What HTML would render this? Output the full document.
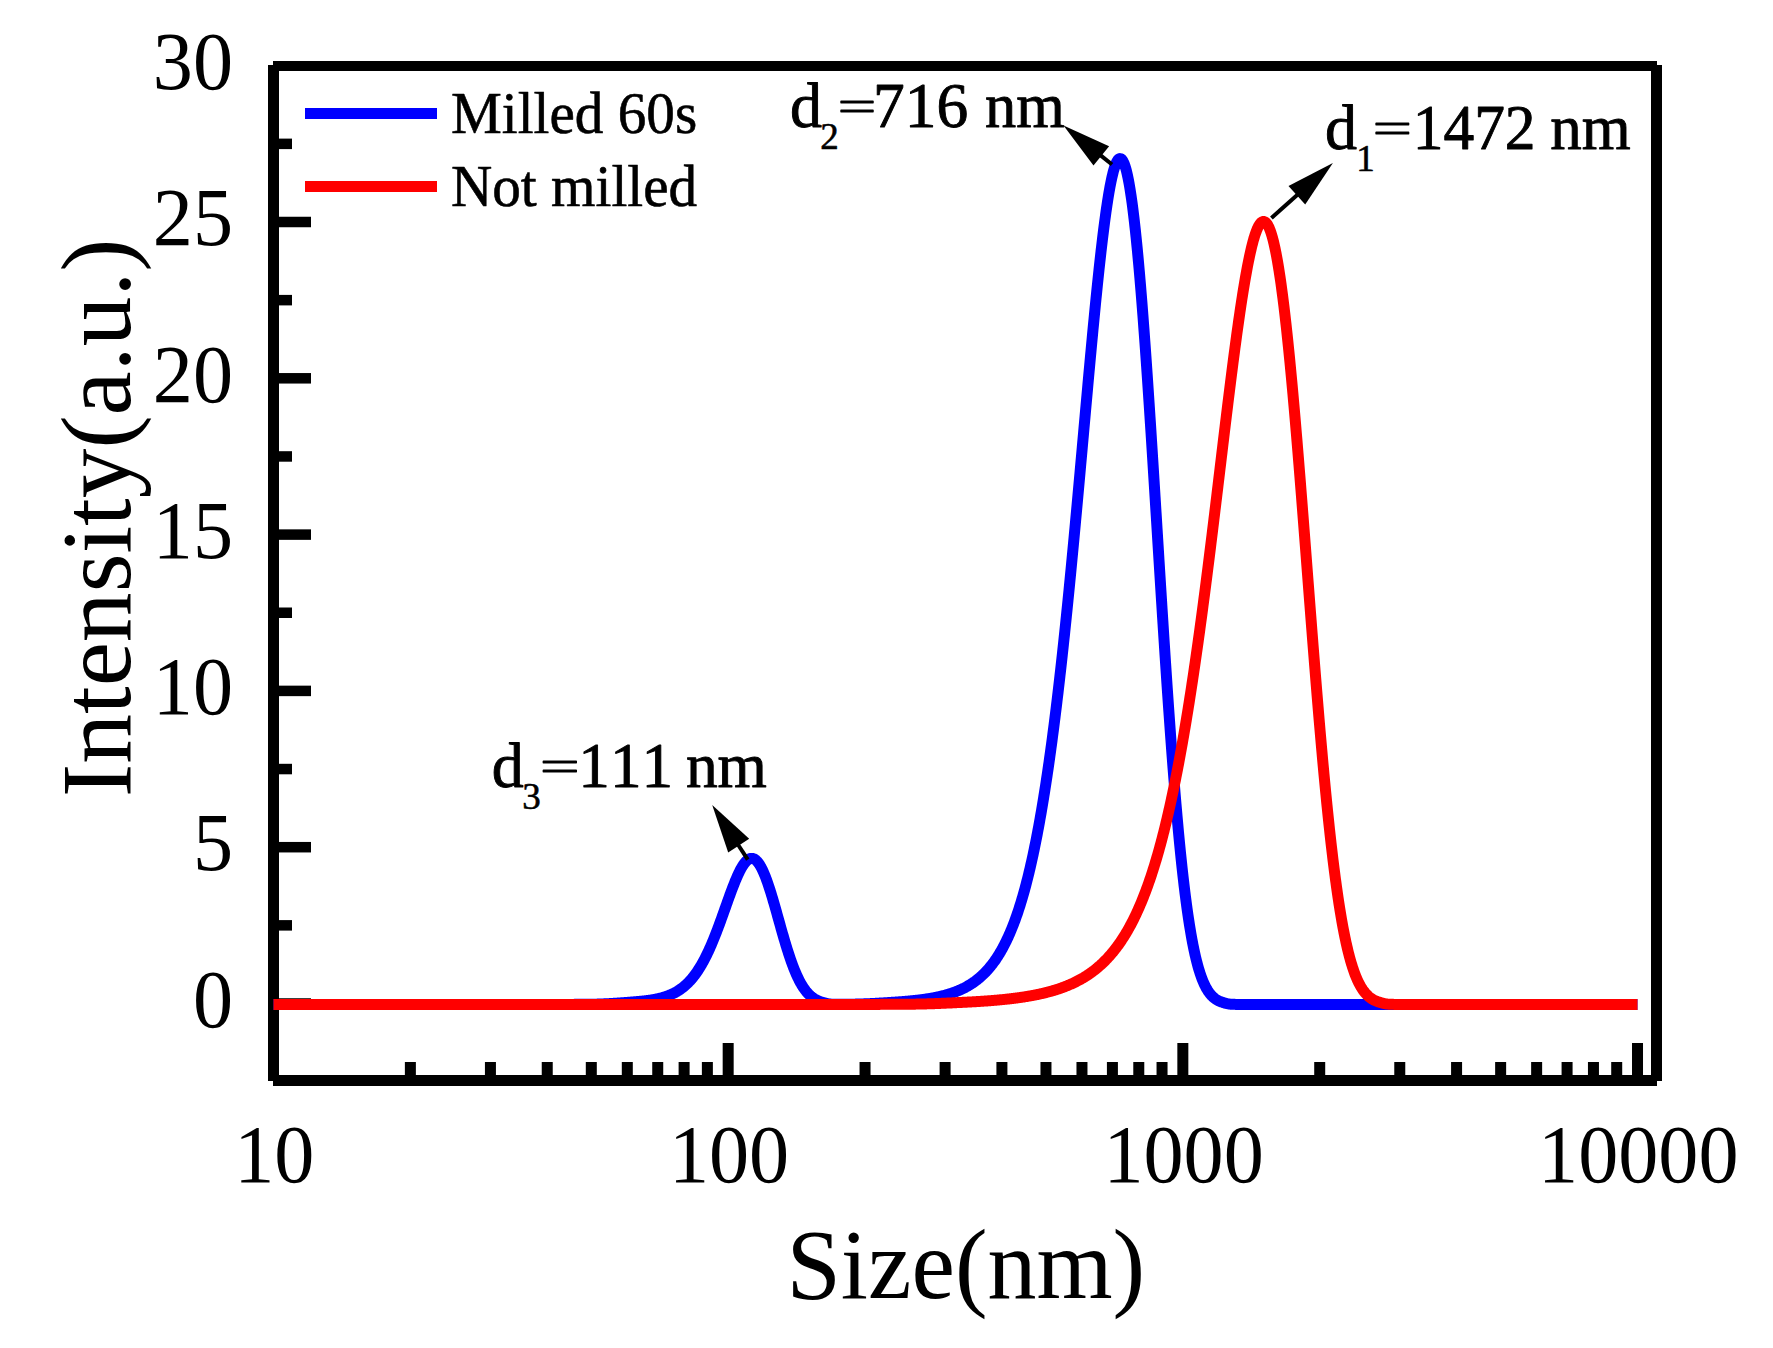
<!DOCTYPE html>
<html><head><meta charset="utf-8"><title>Size distribution</title>
<style>html,body{margin:0;padding:0;background:#fff}svg{display:block}</style>
</head><body>
<svg width="1773" height="1348" viewBox="0 0 1773 1348">
<rect width="1773" height="1348" fill="#fff"/>
<g fill="#000">
<rect x="268" y="65" width="11" height="1016"/>
<rect x="1651" y="65" width="11" height="1016"/>
<rect x="273" y="61" width="1384" height="10"/>
<rect x="273" y="1075" width="1384" height="11"/>
<rect x="273" y="998.25" width="38" height="10.5"/>
<rect x="273" y="920.10" width="19" height="10.5"/>
<rect x="273" y="841.95" width="38" height="10.5"/>
<rect x="273" y="763.80" width="19" height="10.5"/>
<rect x="273" y="685.65" width="38" height="10.5"/>
<rect x="273" y="607.50" width="19" height="10.5"/>
<rect x="273" y="529.35" width="38" height="10.5"/>
<rect x="273" y="451.20" width="19" height="10.5"/>
<rect x="273" y="373.05" width="38" height="10.5"/>
<rect x="273" y="294.90" width="19" height="10.5"/>
<rect x="273" y="216.75" width="38" height="10.5"/>
<rect x="273" y="138.60" width="19" height="10.5"/>
<rect x="268.00" y="1043" width="11" height="37"/>
<rect x="404.87" y="1062" width="11" height="18"/>
<rect x="484.93" y="1062" width="11" height="18"/>
<rect x="541.74" y="1062" width="11" height="18"/>
<rect x="585.80" y="1062" width="11" height="18"/>
<rect x="621.80" y="1062" width="11" height="18"/>
<rect x="652.24" y="1062" width="11" height="18"/>
<rect x="678.61" y="1062" width="11" height="18"/>
<rect x="701.87" y="1062" width="11" height="18"/>
<rect x="722.67" y="1043" width="11" height="37"/>
<rect x="859.54" y="1062" width="11" height="18"/>
<rect x="939.60" y="1062" width="11" height="18"/>
<rect x="996.41" y="1062" width="11" height="18"/>
<rect x="1040.47" y="1062" width="11" height="18"/>
<rect x="1076.47" y="1062" width="11" height="18"/>
<rect x="1106.91" y="1062" width="11" height="18"/>
<rect x="1133.28" y="1062" width="11" height="18"/>
<rect x="1156.54" y="1062" width="11" height="18"/>
<rect x="1177.34" y="1043" width="11" height="37"/>
<rect x="1314.21" y="1062" width="11" height="18"/>
<rect x="1394.27" y="1062" width="11" height="18"/>
<rect x="1451.08" y="1062" width="11" height="18"/>
<rect x="1495.14" y="1062" width="11" height="18"/>
<rect x="1531.14" y="1062" width="11" height="18"/>
<rect x="1561.58" y="1062" width="11" height="18"/>
<rect x="1587.95" y="1062" width="11" height="18"/>
<rect x="1611.21" y="1062" width="11" height="18"/>
<rect x="1632.01" y="1043" width="11" height="37"/>
</g>
<path d="M273.5,1004.40 L571.5,1004.38 L572.5,1004.38 L573.5,1004.38 L574.5,1004.37 L575.5,1004.37 L576.5,1004.37 L577.5,1004.36 L578.5,1004.36 L579.5,1004.35 L580.5,1004.35 L581.5,1004.34 L582.5,1004.33 L583.5,1004.33 L584.5,1004.32 L585.5,1004.31 L586.5,1004.30 L587.5,1004.29 L588.5,1004.28 L589.5,1004.26 L590.5,1004.25 L591.5,1004.23 L592.5,1004.21 L593.5,1004.20 L594.5,1004.17 L595.5,1004.15 L596.5,1004.13 L597.5,1004.10 L598.5,1004.07 L599.5,1004.04 L600.0,1004.02 L600.5,1004.01 L601.0,1003.99 L601.5,1003.97 L602.0,1003.95 L602.5,1003.93 L603.0,1003.91 L603.5,1003.89 L604.0,1003.87 L604.5,1003.85 L605.0,1003.83 L605.5,1003.81 L606.0,1003.78 L606.5,1003.76 L607.0,1003.73 L607.5,1003.71 L608.0,1003.68 L608.5,1003.65 L609.0,1003.63 L609.5,1003.60 L610.0,1003.57 L610.5,1003.54 L611.0,1003.51 L611.5,1003.48 L612.0,1003.45 L612.5,1003.42 L613.0,1003.39 L613.5,1003.36 L614.0,1003.32 L614.5,1003.29 L615.0,1003.26 L615.5,1003.22 L616.0,1003.19 L616.5,1003.16 L617.0,1003.12 L617.5,1003.09 L618.0,1003.05 L618.5,1003.02 L619.0,1002.98 L619.5,1002.95 L620.0,1002.91 L620.5,1002.87 L621.0,1002.84 L621.5,1002.80 L622.0,1002.77 L622.5,1002.73 L623.0,1002.69 L623.5,1002.66 L624.0,1002.62 L624.5,1002.58 L625.0,1002.55 L625.5,1002.51 L626.0,1002.47 L626.5,1002.44 L627.0,1002.40 L627.5,1002.36 L628.0,1002.32 L628.5,1002.28 L629.0,1002.25 L629.5,1002.21 L630.0,1002.17 L630.5,1002.13 L631.0,1002.09 L631.5,1002.05 L632.0,1002.01 L632.5,1001.97 L633.0,1001.93 L633.5,1001.89 L634.0,1001.85 L634.5,1001.81 L635.0,1001.77 L635.5,1001.72 L636.0,1001.68 L636.5,1001.63 L637.0,1001.59 L637.5,1001.55 L638.0,1001.50 L638.5,1001.45 L639.0,1001.41 L639.5,1001.36 L640.0,1001.31 L640.5,1001.26 L641.0,1001.21 L641.5,1001.16 L642.0,1001.11 L642.5,1001.06 L643.0,1001.01 L643.5,1000.96 L644.0,1000.90 L644.5,1000.85 L645.0,1000.79 L645.5,1000.74 L646.0,1000.68 L646.5,1000.62 L647.0,1000.56 L647.5,1000.49 L648.0,1000.43 L648.5,1000.36 L649.0,1000.29 L649.5,1000.22 L650.0,1000.15 L650.5,1000.07 L651.0,1000.00 L651.5,999.92 L652.0,999.84 L652.5,999.75 L653.0,999.67 L653.5,999.58 L654.0,999.49 L654.5,999.40 L655.0,999.31 L655.5,999.21 L656.0,999.11 L656.5,999.01 L657.0,998.90 L657.5,998.79 L658.0,998.68 L658.5,998.57 L659.0,998.45 L659.5,998.33 L660.0,998.21 L660.5,998.08 L661.0,997.95 L661.5,997.82 L662.0,997.68 L662.5,997.54 L663.0,997.40 L663.5,997.25 L664.0,997.10 L664.5,996.95 L665.0,996.79 L665.5,996.62 L666.0,996.45 L666.5,996.28 L667.0,996.10 L667.5,995.92 L668.0,995.74 L668.5,995.55 L669.0,995.35 L669.5,995.15 L670.0,994.94 L670.5,994.73 L671.0,994.51 L671.5,994.29 L672.0,994.06 L672.5,993.83 L673.0,993.59 L673.5,993.34 L674.0,993.09 L674.5,992.83 L675.0,992.56 L675.5,992.29 L676.0,992.01 L676.5,991.73 L677.0,991.43 L677.5,991.13 L678.0,990.82 L678.5,990.51 L679.0,990.19 L679.5,989.85 L680.0,989.51 L680.5,989.17 L681.0,988.81 L681.5,988.44 L682.0,988.07 L682.5,987.69 L683.0,987.30 L683.5,986.89 L684.0,986.48 L684.5,986.06 L685.0,985.63 L685.5,985.19 L686.0,984.74 L686.5,984.28 L687.0,983.81 L687.5,983.32 L688.0,982.83 L688.5,982.33 L689.0,981.81 L689.5,981.28 L690.0,980.74 L690.5,980.19 L691.0,979.63 L691.5,979.05 L692.0,978.46 L692.5,977.86 L693.0,977.25 L693.5,976.62 L694.0,975.98 L694.5,975.32 L695.0,974.66 L695.5,973.98 L696.0,973.28 L696.5,972.57 L697.0,971.85 L697.5,971.11 L698.0,970.36 L698.5,969.59 L699.0,968.81 L699.5,968.02 L700.0,967.21 L700.5,966.38 L701.0,965.54 L701.5,964.68 L702.0,963.81 L702.5,962.92 L703.0,962.02 L703.5,961.10 L704.0,960.17 L704.5,959.22 L705.0,958.26 L705.5,957.28 L706.0,956.28 L706.5,955.27 L707.0,954.25 L707.5,953.20 L708.0,952.15 L708.5,951.07 L709.0,949.99 L709.5,948.88 L710.0,947.76 L710.5,946.63 L711.0,945.48 L711.5,944.32 L712.0,943.15 L712.5,941.95 L713.0,940.75 L713.5,939.53 L714.0,938.30 L714.5,937.06 L715.0,935.80 L715.5,934.53 L716.0,933.25 L716.5,931.96 L717.0,930.65 L717.5,929.34 L718.0,928.01 L718.5,926.68 L719.0,925.34 L719.5,923.98 L720.0,922.62 L720.5,921.25 L721.0,919.88 L721.5,918.49 L722.0,917.11 L722.5,915.71 L723.0,914.32 L723.5,912.92 L724.0,911.51 L724.5,910.11 L725.0,908.70 L725.5,907.29 L726.0,905.88 L726.5,904.48 L727.0,903.07 L727.5,901.67 L728.0,900.27 L728.5,898.88 L729.0,897.49 L729.5,896.11 L730.0,894.74 L730.5,893.38 L731.0,892.02 L731.5,890.68 L732.0,889.35 L732.5,888.03 L733.0,886.73 L733.5,885.44 L734.0,884.17 L734.5,882.91 L735.0,881.68 L735.5,880.46 L736.0,879.26 L736.5,878.09 L737.0,876.94 L737.5,875.81 L738.0,874.71 L738.5,873.64 L739.0,872.59 L739.5,871.57 L740.0,870.59 L740.5,869.63 L741.0,868.71 L741.5,867.81 L742.0,866.96 L742.5,866.14 L743.0,865.35 L743.5,864.60 L744.0,863.89 L744.5,863.22 L745.0,862.59 L745.5,862.00 L746.0,861.45 L746.5,860.95 L747.0,860.49 L747.5,860.07 L748.0,859.70 L748.5,859.37 L749.0,859.09 L749.5,858.86 L750.0,858.67 L750.5,858.53 L751.0,858.44 L751.5,858.40 L752.0,858.41 L752.5,858.47 L753.0,858.58 L753.5,858.73 L754.0,858.94 L754.5,859.20 L755.0,859.51 L755.5,859.87 L756.0,860.28 L756.5,860.73 L757.0,861.24 L757.5,861.80 L758.0,862.41 L758.5,863.06 L759.0,863.77 L759.5,864.52 L760.0,865.32 L760.5,866.17 L761.0,867.06 L761.5,868.00 L762.0,868.99 L762.5,870.01 L763.0,871.09 L763.5,872.20 L764.0,873.35 L764.5,874.55 L765.0,875.78 L765.5,877.06 L766.0,878.37 L766.5,879.71 L767.0,881.09 L767.5,882.51 L768.0,883.95 L768.5,885.43 L769.0,886.94 L769.5,888.47 L770.0,890.03 L770.5,891.62 L771.0,893.23 L771.5,894.86 L772.0,896.52 L772.5,898.19 L773.0,899.88 L773.5,901.59 L774.0,903.31 L774.5,905.05 L775.0,906.79 L775.5,908.55 L776.0,910.32 L776.5,912.09 L777.0,913.87 L777.5,915.66 L778.0,917.44 L778.5,919.23 L779.0,921.02 L779.5,922.81 L780.0,924.59 L780.5,926.37 L781.0,928.14 L781.5,929.91 L782.0,931.67 L782.5,933.42 L783.0,935.15 L783.5,936.88 L784.0,938.59 L784.5,940.29 L785.0,941.98 L785.5,943.64 L786.0,945.29 L786.5,946.93 L787.0,948.54 L787.5,950.13 L788.0,951.70 L788.5,953.25 L789.0,954.78 L789.5,956.29 L790.0,957.77 L790.5,959.22 L791.0,960.66 L791.5,962.06 L792.0,963.44 L792.5,964.80 L793.0,966.13 L793.5,967.43 L794.0,968.70 L794.5,969.95 L795.0,971.17 L795.5,972.36 L796.0,973.53 L796.5,974.66 L797.0,975.77 L797.5,976.85 L798.0,977.91 L798.5,978.93 L799.0,979.93 L799.5,980.90 L800.0,981.84 L800.5,982.76 L801.0,983.65 L801.5,984.51 L802.0,985.35 L802.5,986.16 L803.0,986.94 L803.5,987.70 L804.0,988.43 L804.5,989.14 L805.0,989.83 L805.5,990.49 L806.0,991.13 L806.5,991.74 L807.0,992.33 L807.5,992.90 L808.0,993.45 L808.5,993.98 L809.0,994.49 L809.5,994.98 L810.0,995.45 L810.5,995.90 L811.0,996.33 L811.5,996.74 L812.0,997.14 L812.5,997.51 L813.0,997.88 L813.5,998.22 L814.0,998.55 L814.5,998.87 L815.0,999.17 L815.5,999.46 L816.0,999.73 L816.5,999.99 L817.0,1000.24 L817.5,1000.48 L818.0,1000.70 L818.5,1000.92 L819.0,1001.12 L819.5,1001.31 L820.0,1001.50 L820.5,1001.67 L821.0,1001.84 L821.5,1002.00 L822.0,1002.15 L822.5,1002.30 L823.0,1002.45 L823.5,1002.59 L824.0,1002.73 L824.5,1002.87 L825.0,1003.01 L825.5,1003.15 L826.0,1003.28 L826.5,1003.40 L827.0,1003.52 L827.5,1003.63 L828.0,1003.73 L828.5,1003.82 L829.0,1003.90 L829.5,1003.97 L830.0,1004.04 L830.5,1004.09 L831.0,1004.14 L831.5,1004.17 L832.0,1004.21 L832.5,1004.23 L833.0,1004.26 L833.5,1004.27 L834.0,1004.29 L834.5,1004.30 L835.0,1004.31 L835.5,1004.31 L836.0,1004.32 L836.5,1004.32 L837.0,1004.32 L837.5,1004.33 L838.0,1004.33 L838.5,1004.33 L839.0,1004.32 L839.5,1004.32 L840.0,1004.32 L840.5,1004.32 L841.0,1004.32 L841.5,1004.31 L842.0,1004.31 L842.5,1004.31 L843.0,1004.30 L843.5,1004.30 L844.0,1004.29 L844.5,1004.29 L845.0,1004.28 L845.5,1004.28 L846.0,1004.27 L846.5,1004.27 L847.0,1004.26 L847.5,1004.26 L848.0,1004.25 L848.5,1004.24 L849.0,1004.24 L849.5,1004.23 L850.0,1004.22 L850.5,1004.21 L851.0,1004.21 L851.5,1004.20 L852.0,1004.19 L852.5,1004.18 L853.0,1004.17 L853.5,1004.16 L854.0,1004.15 L854.5,1004.14 L855.0,1004.13 L855.5,1004.12 L856.0,1004.11 L856.5,1004.10 L857.0,1004.09 L857.5,1004.07 L858.0,1004.06 L858.5,1004.05 L859.0,1004.03 L859.5,1004.02 L860.0,1004.01 L860.5,1003.99 L861.0,1003.98 L861.5,1003.96 L862.0,1003.94 L862.5,1003.93 L863.0,1003.91 L863.5,1003.89 L864.0,1003.87 L864.5,1003.86 L865.0,1003.84 L865.5,1003.82 L866.0,1003.80 L866.5,1003.78 L867.0,1003.76 L867.5,1003.74 L868.0,1003.72 L868.5,1003.69 L869.0,1003.67 L869.5,1003.65 L870.0,1003.62 L870.5,1003.60 L871.0,1003.58 L871.5,1003.55 L872.0,1003.53 L872.5,1003.50 L873.0,1003.48 L873.5,1003.45 L874.0,1003.42 L874.5,1003.40 L875.0,1003.37 L875.5,1003.34 L876.0,1003.31 L876.5,1003.28 L877.0,1003.26 L877.5,1003.23 L878.0,1003.20 L878.5,1003.17 L879.0,1003.14 L879.5,1003.11 L880.0,1003.08 L880.5,1003.05 L881.0,1003.02 L881.5,1002.99 L882.0,1002.96 L882.5,1002.93 L883.0,1002.90 L883.5,1002.87 L884.0,1002.84 L884.5,1002.80 L885.0,1002.77 L885.5,1002.74 L886.0,1002.71 L886.5,1002.68 L887.0,1002.65 L887.5,1002.62 L888.0,1002.58 L888.5,1002.55 L889.0,1002.52 L889.5,1002.49 L890.0,1002.46 L890.5,1002.42 L891.0,1002.39 L891.5,1002.36 L892.0,1002.33 L892.5,1002.29 L893.0,1002.26 L893.5,1002.23 L894.0,1002.19 L894.5,1002.16 L895.0,1002.13 L895.5,1002.09 L896.0,1002.06 L896.5,1002.02 L897.0,1001.99 L897.5,1001.95 L898.0,1001.92 L898.5,1001.88 L899.0,1001.84 L899.5,1001.81 L900.0,1001.77 L900.5,1001.73 L901.0,1001.69 L901.5,1001.66 L902.0,1001.62 L902.5,1001.58 L903.0,1001.54 L903.5,1001.50 L904.0,1001.46 L904.5,1001.42 L905.0,1001.37 L905.5,1001.33 L906.0,1001.29 L906.5,1001.25 L907.0,1001.20 L907.5,1001.16 L908.0,1001.11 L908.5,1001.07 L909.0,1001.02 L909.5,1000.98 L910.0,1000.93 L910.5,1000.88 L911.0,1000.83 L911.5,1000.78 L912.0,1000.73 L912.5,1000.68 L913.0,1000.63 L913.5,1000.58 L914.0,1000.53 L914.5,1000.48 L915.0,1000.42 L915.5,1000.37 L916.0,1000.32 L916.5,1000.26 L917.0,1000.20 L917.5,1000.15 L918.0,1000.09 L918.5,1000.03 L919.0,999.97 L919.5,999.91 L920.0,999.85 L920.5,999.79 L921.0,999.73 L921.5,999.66 L922.0,999.60 L922.5,999.53 L923.0,999.47 L923.5,999.40 L924.0,999.33 L924.5,999.26 L925.0,999.19 L925.5,999.12 L926.0,999.04 L926.5,998.97 L927.0,998.89 L927.5,998.82 L928.0,998.74 L928.5,998.66 L929.0,998.58 L929.5,998.50 L930.0,998.41 L930.5,998.33 L931.0,998.24 L931.5,998.16 L932.0,998.07 L932.5,997.98 L933.0,997.89 L933.5,997.79 L934.0,997.70 L934.5,997.60 L935.0,997.51 L935.5,997.41 L936.0,997.31 L936.5,997.20 L937.0,997.10 L937.5,997.00 L938.0,996.89 L938.5,996.78 L939.0,996.67 L939.5,996.56 L940.0,996.44 L940.5,996.33 L941.0,996.21 L941.5,996.09 L942.0,995.97 L942.5,995.84 L943.0,995.72 L943.5,995.59 L944.0,995.46 L944.5,995.33 L945.0,995.19 L945.5,995.06 L946.0,994.92 L946.5,994.78 L947.0,994.63 L947.5,994.49 L948.0,994.34 L948.5,994.19 L949.0,994.03 L949.5,993.88 L950.0,993.72 L950.5,993.56 L951.0,993.40 L951.5,993.23 L952.0,993.06 L952.5,992.89 L953.0,992.72 L953.5,992.54 L954.0,992.36 L954.5,992.17 L955.0,991.99 L955.5,991.80 L956.0,991.61 L956.5,991.41 L957.0,991.21 L957.5,991.01 L958.0,990.80 L958.5,990.59 L959.0,990.38 L959.5,990.17 L960.0,989.95 L960.5,989.72 L961.0,989.49 L961.5,989.26 L962.0,989.03 L962.5,988.79 L963.0,988.55 L963.5,988.30 L964.0,988.05 L964.5,987.79 L965.0,987.53 L965.5,987.27 L966.0,987.00 L966.5,986.73 L967.0,986.45 L967.5,986.17 L968.0,985.88 L968.5,985.59 L969.0,985.29 L969.5,984.99 L970.0,984.68 L970.5,984.37 L971.0,984.05 L971.5,983.73 L972.0,983.40 L972.5,983.07 L973.0,982.73 L973.5,982.38 L974.0,982.03 L974.5,981.68 L975.0,981.31 L975.5,980.94 L976.0,980.57 L976.5,980.19 L977.0,979.80 L977.5,979.40 L978.0,979.00 L978.5,978.59 L979.0,978.18 L979.5,977.76 L980.0,977.33 L980.5,976.89 L981.0,976.45 L981.5,976.00 L982.0,975.54 L982.5,975.07 L983.0,974.60 L983.5,974.11 L984.0,973.62 L984.5,973.12 L985.0,972.62 L985.5,972.10 L986.0,971.58 L986.5,971.04 L987.0,970.50 L987.5,969.95 L988.0,969.39 L988.5,968.82 L989.0,968.24 L989.5,967.65 L990.0,967.05 L990.5,966.44 L991.0,965.82 L991.5,965.19 L992.0,964.55 L992.5,963.89 L993.0,963.23 L993.5,962.56 L994.0,961.87 L994.5,961.18 L995.0,960.47 L995.5,959.75 L996.0,959.02 L996.5,958.27 L997.0,957.52 L997.5,956.75 L998.0,955.97 L998.5,955.17 L999.0,954.36 L999.5,953.54 L1000.0,952.71 L1000.5,951.86 L1001.0,951.00 L1001.5,950.12 L1002.0,949.23 L1002.5,948.32 L1003.0,947.40 L1003.5,946.47 L1004.0,945.52 L1004.5,944.55 L1005.0,943.57 L1005.5,942.57 L1006.0,941.55 L1006.5,940.52 L1007.0,939.47 L1007.5,938.41 L1008.0,937.33 L1008.5,936.23 L1009.0,935.11 L1009.5,933.97 L1010.0,932.82 L1010.5,931.65 L1011.0,930.45 L1011.5,929.24 L1012.0,928.01 L1012.5,926.77 L1013.0,925.50 L1013.5,924.21 L1014.0,922.90 L1014.5,921.57 L1015.0,920.22 L1015.5,918.84 L1016.0,917.45 L1016.5,916.03 L1017.0,914.59 L1017.5,913.13 L1018.0,911.65 L1018.5,910.14 L1019.0,908.61 L1019.5,907.06 L1020.0,905.48 L1020.5,903.88 L1021.0,902.25 L1021.5,900.60 L1022.0,898.93 L1022.5,897.22 L1023.0,895.50 L1023.5,893.74 L1024.0,891.96 L1024.5,890.16 L1025.0,888.32 L1025.5,886.46 L1026.0,884.57 L1026.5,882.65 L1027.0,880.71 L1027.5,878.73 L1028.0,876.73 L1028.5,874.70 L1029.0,872.64 L1029.5,870.55 L1030.0,868.42 L1030.5,866.27 L1031.0,864.09 L1031.5,861.87 L1032.0,859.63 L1032.5,857.35 L1033.0,855.04 L1033.5,852.70 L1034.0,850.32 L1034.5,847.91 L1035.0,845.47 L1035.5,843.00 L1036.0,840.49 L1036.5,837.94 L1037.0,835.36 L1037.5,832.75 L1038.0,830.10 L1038.5,827.42 L1039.0,824.70 L1039.5,821.94 L1040.0,819.15 L1040.5,816.32 L1041.0,813.46 L1041.5,810.56 L1042.0,807.62 L1042.5,804.64 L1043.0,801.63 L1043.5,798.57 L1044.0,795.48 L1044.5,792.35 L1045.0,789.18 L1045.5,785.98 L1046.0,782.73 L1046.5,779.44 L1047.0,776.12 L1047.5,772.75 L1048.0,769.35 L1048.5,765.90 L1049.0,762.42 L1049.5,758.89 L1050.0,755.33 L1050.5,751.72 L1051.0,748.08 L1051.5,744.39 L1052.0,740.66 L1052.5,736.89 L1053.0,733.08 L1053.5,729.23 L1054.0,725.34 L1054.5,721.41 L1055.0,717.44 L1055.5,713.42 L1056.0,709.37 L1056.5,705.27 L1057.0,701.14 L1057.5,696.96 L1058.0,692.74 L1058.5,688.48 L1059.0,684.19 L1059.5,679.85 L1060.0,675.47 L1060.5,671.05 L1061.0,666.59 L1061.5,662.10 L1062.0,657.56 L1062.5,652.99 L1063.0,648.38 L1063.5,643.73 L1064.0,639.04 L1064.5,634.31 L1065.0,629.55 L1065.5,624.75 L1066.0,619.92 L1066.5,615.05 L1067.0,610.14 L1067.5,605.20 L1068.0,600.23 L1068.5,595.22 L1069.0,590.18 L1069.5,585.11 L1070.0,580.01 L1070.5,574.88 L1071.0,569.71 L1071.5,564.52 L1072.0,559.30 L1072.5,554.05 L1073.0,548.77 L1073.5,543.47 L1074.0,538.15 L1074.5,532.80 L1075.0,527.42 L1075.5,522.03 L1076.0,516.61 L1076.5,511.18 L1077.0,505.72 L1077.5,500.25 L1078.0,494.76 L1078.5,489.25 L1079.0,483.74 L1079.5,478.20 L1080.0,472.66 L1080.5,467.11 L1081.0,461.55 L1081.5,455.98 L1082.0,450.40 L1082.5,444.82 L1083.0,439.24 L1083.5,433.66 L1084.0,428.07 L1084.5,422.49 L1085.0,416.91 L1085.5,411.34 L1086.0,405.78 L1086.5,400.22 L1087.0,394.67 L1087.5,389.14 L1088.0,383.62 L1088.5,378.11 L1089.0,372.62 L1089.5,367.16 L1090.0,361.71 L1090.5,356.29 L1091.0,350.89 L1091.5,345.52 L1092.0,340.18 L1092.5,334.88 L1093.0,329.60 L1093.5,324.37 L1094.0,319.17 L1094.5,314.01 L1095.0,308.90 L1095.5,303.83 L1096.0,298.80 L1096.5,293.83 L1097.0,288.91 L1097.5,284.04 L1098.0,279.23 L1098.5,274.48 L1099.0,269.79 L1099.5,265.16 L1100.0,260.60 L1100.5,256.11 L1101.0,251.68 L1101.5,247.33 L1102.0,243.06 L1102.5,238.86 L1103.0,234.74 L1103.5,230.71 L1104.0,226.76 L1104.5,222.90 L1105.0,219.13 L1105.5,215.45 L1106.0,211.86 L1106.5,208.37 L1107.0,204.98 L1107.5,201.69 L1108.0,198.51 L1108.5,195.43 L1109.0,192.46 L1109.5,189.60 L1110.0,186.85 L1110.5,184.22 L1111.0,181.70 L1111.5,179.31 L1112.0,177.03 L1112.5,174.88 L1113.0,172.85 L1113.5,170.95 L1114.0,169.18 L1114.5,167.54 L1115.0,166.03 L1115.5,164.65 L1116.0,163.42 L1116.5,162.32 L1117.0,161.36 L1117.5,160.54 L1118.0,159.86 L1118.5,159.33 L1119.0,158.94 L1119.5,158.70 L1120.0,158.60 L1120.5,158.66 L1121.0,158.86 L1121.5,159.21 L1122.0,159.72 L1122.5,160.38 L1123.0,161.19 L1123.5,162.16 L1124.0,163.28 L1124.5,164.56 L1125.0,165.99 L1125.5,167.57 L1126.0,169.32 L1126.5,171.22 L1127.0,173.27 L1127.5,175.48 L1128.0,177.85 L1128.5,180.37 L1129.0,183.05 L1129.5,185.89 L1130.0,188.87 L1130.5,192.02 L1131.0,195.31 L1131.5,198.76 L1132.0,202.36 L1132.5,206.10 L1133.0,210.00 L1133.5,214.05 L1134.0,218.24 L1134.5,222.58 L1135.0,227.06 L1135.5,231.68 L1136.0,236.45 L1136.5,241.35 L1137.0,246.39 L1137.5,251.56 L1138.0,256.87 L1138.5,262.31 L1139.0,267.87 L1139.5,273.56 L1140.0,279.38 L1140.5,285.31 L1141.0,291.36 L1141.5,297.53 L1142.0,303.81 L1142.5,310.20 L1143.0,316.70 L1143.5,323.30 L1144.0,330.00 L1144.5,336.79 L1145.0,343.69 L1145.5,350.67 L1146.0,357.74 L1146.5,364.89 L1147.0,372.13 L1147.5,379.44 L1148.0,386.82 L1148.5,394.28 L1149.0,401.80 L1149.5,409.38 L1150.0,417.02 L1150.5,424.72 L1151.0,432.47 L1151.5,440.26 L1152.0,448.10 L1152.5,455.98 L1153.0,463.89 L1153.5,471.84 L1154.0,479.81 L1154.5,487.81 L1155.0,495.82 L1155.5,503.86 L1156.0,511.90 L1156.5,519.95 L1157.0,528.01 L1157.5,536.07 L1158.0,544.13 L1158.5,552.18 L1159.0,560.22 L1159.5,568.24 L1160.0,576.25 L1160.5,584.23 L1161.0,592.19 L1161.5,600.12 L1162.0,608.02 L1162.5,615.88 L1163.0,623.71 L1163.5,631.49 L1164.0,639.23 L1164.5,646.91 L1165.0,654.55 L1165.5,662.13 L1166.0,669.66 L1166.5,677.12 L1167.0,684.52 L1167.5,691.85 L1168.0,699.12 L1168.5,706.32 L1169.0,713.44 L1169.5,720.48 L1170.0,727.45 L1170.5,734.33 L1171.0,741.14 L1171.5,747.86 L1172.0,754.49 L1172.5,761.04 L1173.0,767.50 L1173.5,773.86 L1174.0,780.13 L1174.5,786.31 L1175.0,792.40 L1175.5,798.38 L1176.0,804.27 L1176.5,810.06 L1177.0,815.75 L1177.5,821.35 L1178.0,826.84 L1178.5,832.23 L1179.0,837.51 L1179.5,842.70 L1180.0,847.78 L1180.5,852.76 L1181.0,857.64 L1181.5,862.41 L1182.0,867.08 L1182.5,871.65 L1183.0,876.12 L1183.5,880.48 L1184.0,884.74 L1184.5,888.91 L1185.0,892.97 L1185.5,896.93 L1186.0,900.79 L1186.5,904.55 L1187.0,908.22 L1187.5,911.78 L1188.0,915.26 L1188.5,918.63 L1189.0,921.92 L1189.5,925.11 L1190.0,928.20 L1190.5,931.21 L1191.0,934.13 L1191.5,936.96 L1192.0,939.71 L1192.5,942.37 L1193.0,944.94 L1193.5,947.44 L1194.0,949.85 L1194.5,952.18 L1195.0,954.44 L1195.5,956.62 L1196.0,958.72 L1196.5,960.75 L1197.0,962.71 L1197.5,964.60 L1198.0,966.42 L1198.5,968.18 L1199.0,969.87 L1199.5,971.49 L1200.0,973.06 L1200.5,974.56 L1201.0,976.01 L1201.5,977.39 L1202.0,978.72 L1202.5,980.00 L1203.0,981.23 L1203.5,982.40 L1204.0,983.53 L1204.5,984.60 L1205.0,985.63 L1205.5,986.62 L1206.0,987.56 L1206.5,988.46 L1207.0,989.32 L1207.5,990.14 L1208.0,990.92 L1208.5,991.67 L1209.0,992.38 L1209.5,993.06 L1210.0,993.70 L1210.5,994.31 L1211.0,994.90 L1211.5,995.45 L1212.0,995.98 L1212.5,996.48 L1213.0,996.95 L1213.5,997.40 L1214.0,997.82 L1214.5,998.23 L1215.0,998.61 L1215.5,998.97 L1216.0,999.31 L1216.5,999.63 L1217.0,999.94 L1217.5,1000.22 L1218.0,1000.49 L1218.5,1000.75 L1219.0,1000.99 L1219.5,1001.21 L1220.0,1001.42 L1220.5,1001.62 L1221.0,1001.81 L1221.5,1001.99 L1222.0,1002.16 L1222.5,1002.33 L1223.0,1002.49 L1223.5,1002.65 L1224.0,1002.80 L1224.5,1002.96 L1225.0,1003.11 L1225.5,1003.25 L1226.0,1003.39 L1226.5,1003.52 L1227.0,1003.64 L1227.5,1003.75 L1228.0,1003.85 L1228.5,1003.94 L1229.0,1004.02 L1229.5,1004.08 L1230.0,1004.14 L1230.5,1004.19 L1231.0,1004.23 L1231.5,1004.26 L1232.0,1004.29 L1232.5,1004.31 L1233.0,1004.33 L1233.5,1004.34 L1234.0,1004.35 L1234.5,1004.36 L1235.0,1004.37 L1235.5,1004.38 L1236.0,1004.38 L1637.5,1004.40" fill="none" stroke="#0000ff" stroke-width="11" stroke-linejoin="round" stroke-linecap="butt"/>
<path d="M273.5,1004.40 L877.0,1004.38 L877.5,1004.38 L878.0,1004.38 L878.5,1004.38 L879.0,1004.38 L879.5,1004.38 L880.0,1004.38 L880.5,1004.37 L881.0,1004.37 L881.5,1004.37 L882.0,1004.37 L882.5,1004.37 L883.0,1004.37 L883.5,1004.37 L884.0,1004.37 L884.5,1004.37 L885.0,1004.37 L885.5,1004.36 L886.0,1004.36 L886.5,1004.36 L887.0,1004.36 L887.5,1004.36 L888.0,1004.36 L888.5,1004.36 L889.0,1004.35 L889.5,1004.35 L890.0,1004.35 L890.5,1004.35 L891.0,1004.35 L891.5,1004.34 L892.0,1004.34 L892.5,1004.34 L893.0,1004.34 L893.5,1004.34 L894.0,1004.33 L894.5,1004.33 L895.0,1004.33 L895.5,1004.33 L896.0,1004.32 L896.5,1004.32 L897.0,1004.32 L897.5,1004.32 L898.0,1004.31 L898.5,1004.31 L899.0,1004.31 L899.5,1004.30 L900.0,1004.30 L900.5,1004.30 L901.0,1004.29 L901.5,1004.29 L902.0,1004.29 L902.5,1004.28 L903.0,1004.28 L903.5,1004.27 L904.0,1004.27 L904.5,1004.26 L905.0,1004.26 L905.5,1004.25 L906.0,1004.25 L906.5,1004.25 L907.0,1004.24 L907.5,1004.23 L908.0,1004.23 L908.5,1004.22 L909.0,1004.22 L909.5,1004.21 L910.0,1004.21 L910.5,1004.20 L911.0,1004.19 L911.5,1004.19 L912.0,1004.18 L912.5,1004.17 L913.0,1004.17 L913.5,1004.16 L914.0,1004.15 L914.5,1004.14 L915.0,1004.13 L915.5,1004.13 L916.0,1004.12 L916.5,1004.11 L917.0,1004.10 L917.5,1004.09 L918.0,1004.08 L918.5,1004.07 L919.0,1004.06 L919.5,1004.05 L920.0,1004.04 L920.5,1004.03 L921.0,1004.02 L921.5,1004.01 L922.0,1004.00 L922.5,1003.99 L923.0,1003.98 L923.5,1003.96 L924.0,1003.95 L924.5,1003.94 L925.0,1003.93 L925.5,1003.91 L926.0,1003.90 L926.5,1003.89 L927.0,1003.87 L927.5,1003.86 L928.0,1003.84 L928.5,1003.83 L929.0,1003.81 L929.5,1003.80 L930.0,1003.78 L930.5,1003.77 L931.0,1003.75 L931.5,1003.73 L932.0,1003.72 L932.5,1003.70 L933.0,1003.68 L933.5,1003.67 L934.0,1003.65 L934.5,1003.63 L935.0,1003.61 L935.5,1003.59 L936.0,1003.57 L936.5,1003.56 L937.0,1003.54 L937.5,1003.52 L938.0,1003.50 L938.5,1003.48 L939.0,1003.46 L939.5,1003.44 L940.0,1003.42 L940.5,1003.40 L941.0,1003.37 L941.5,1003.35 L942.0,1003.33 L942.5,1003.31 L943.0,1003.29 L943.5,1003.27 L944.0,1003.25 L944.5,1003.22 L945.0,1003.20 L945.5,1003.18 L946.0,1003.16 L946.5,1003.13 L947.0,1003.11 L947.5,1003.09 L948.0,1003.06 L948.5,1003.04 L949.0,1003.02 L949.5,1002.99 L950.0,1002.97 L950.5,1002.95 L951.0,1002.92 L951.5,1002.90 L952.0,1002.88 L952.5,1002.85 L953.0,1002.83 L953.5,1002.80 L954.0,1002.78 L954.5,1002.76 L955.0,1002.73 L955.5,1002.71 L956.0,1002.68 L956.5,1002.66 L957.0,1002.63 L957.5,1002.61 L958.0,1002.59 L958.5,1002.56 L959.0,1002.54 L959.5,1002.51 L960.0,1002.49 L960.5,1002.46 L961.0,1002.44 L961.5,1002.41 L962.0,1002.39 L962.5,1002.36 L963.0,1002.34 L963.5,1002.31 L964.0,1002.29 L964.5,1002.26 L965.0,1002.24 L965.5,1002.21 L966.0,1002.19 L966.5,1002.16 L967.0,1002.14 L967.5,1002.11 L968.0,1002.08 L968.5,1002.06 L969.0,1002.03 L969.5,1002.01 L970.0,1001.98 L970.5,1001.95 L971.0,1001.92 L971.5,1001.90 L972.0,1001.87 L972.5,1001.84 L973.0,1001.81 L973.5,1001.79 L974.0,1001.76 L974.5,1001.73 L975.0,1001.70 L975.5,1001.67 L976.0,1001.64 L976.5,1001.61 L977.0,1001.58 L977.5,1001.55 L978.0,1001.52 L978.5,1001.49 L979.0,1001.46 L979.5,1001.43 L980.0,1001.40 L980.5,1001.37 L981.0,1001.33 L981.5,1001.30 L982.0,1001.27 L982.5,1001.24 L983.0,1001.20 L983.5,1001.17 L984.0,1001.13 L984.5,1001.10 L985.0,1001.07 L985.5,1001.03 L986.0,1000.99 L986.5,1000.96 L987.0,1000.92 L987.5,1000.89 L988.0,1000.85 L988.5,1000.81 L989.0,1000.78 L989.5,1000.74 L990.0,1000.70 L990.5,1000.66 L991.0,1000.62 L991.5,1000.58 L992.0,1000.54 L992.5,1000.50 L993.0,1000.46 L993.5,1000.42 L994.0,1000.38 L994.5,1000.34 L995.0,1000.29 L995.5,1000.25 L996.0,1000.21 L996.5,1000.16 L997.0,1000.12 L997.5,1000.08 L998.0,1000.03 L998.5,999.99 L999.0,999.94 L999.5,999.89 L1000.0,999.85 L1000.5,999.80 L1001.0,999.75 L1001.5,999.70 L1002.0,999.65 L1002.5,999.60 L1003.0,999.56 L1003.5,999.50 L1004.0,999.45 L1004.5,999.40 L1005.0,999.35 L1005.5,999.30 L1006.0,999.25 L1006.5,999.19 L1007.0,999.14 L1007.5,999.08 L1008.0,999.03 L1008.5,998.97 L1009.0,998.92 L1009.5,998.86 L1010.0,998.80 L1010.5,998.74 L1011.0,998.69 L1011.5,998.63 L1012.0,998.57 L1012.5,998.51 L1013.0,998.45 L1013.5,998.38 L1014.0,998.32 L1014.5,998.26 L1015.0,998.19 L1015.5,998.13 L1016.0,998.06 L1016.5,998.00 L1017.0,997.93 L1017.5,997.87 L1018.0,997.80 L1018.5,997.73 L1019.0,997.66 L1019.5,997.59 L1020.0,997.52 L1020.5,997.45 L1021.0,997.38 L1021.5,997.30 L1022.0,997.23 L1022.5,997.15 L1023.0,997.08 L1023.5,997.00 L1024.0,996.93 L1024.5,996.85 L1025.0,996.77 L1025.5,996.69 L1026.0,996.61 L1026.5,996.53 L1027.0,996.45 L1027.5,996.36 L1028.0,996.28 L1028.5,996.19 L1029.0,996.11 L1029.5,996.02 L1030.0,995.93 L1030.5,995.85 L1031.0,995.76 L1031.5,995.67 L1032.0,995.57 L1032.5,995.48 L1033.0,995.39 L1033.5,995.29 L1034.0,995.20 L1034.5,995.10 L1035.0,995.00 L1035.5,994.90 L1036.0,994.80 L1036.5,994.70 L1037.0,994.60 L1037.5,994.50 L1038.0,994.39 L1038.5,994.29 L1039.0,994.18 L1039.5,994.07 L1040.0,993.97 L1040.5,993.85 L1041.0,993.74 L1041.5,993.63 L1042.0,993.52 L1042.5,993.40 L1043.0,993.28 L1043.5,993.17 L1044.0,993.05 L1044.5,992.93 L1045.0,992.81 L1045.5,992.68 L1046.0,992.56 L1046.5,992.43 L1047.0,992.30 L1047.5,992.18 L1048.0,992.05 L1048.5,991.91 L1049.0,991.78 L1049.5,991.65 L1050.0,991.51 L1050.5,991.37 L1051.0,991.23 L1051.5,991.09 L1052.0,990.95 L1052.5,990.80 L1053.0,990.66 L1053.5,990.51 L1054.0,990.36 L1054.5,990.21 L1055.0,990.06 L1055.5,989.90 L1056.0,989.75 L1056.5,989.59 L1057.0,989.43 L1057.5,989.27 L1058.0,989.10 L1058.5,988.94 L1059.0,988.77 L1059.5,988.60 L1060.0,988.43 L1060.5,988.26 L1061.0,988.08 L1061.5,987.90 L1062.0,987.72 L1062.5,987.54 L1063.0,987.36 L1063.5,987.17 L1064.0,986.99 L1064.5,986.80 L1065.0,986.60 L1065.5,986.41 L1066.0,986.21 L1066.5,986.01 L1067.0,985.81 L1067.5,985.61 L1068.0,985.40 L1068.5,985.19 L1069.0,984.98 L1069.5,984.77 L1070.0,984.55 L1070.5,984.33 L1071.0,984.11 L1071.5,983.89 L1072.0,983.66 L1072.5,983.43 L1073.0,983.20 L1073.5,982.96 L1074.0,982.73 L1074.5,982.49 L1075.0,982.24 L1075.5,982.00 L1076.0,981.75 L1076.5,981.50 L1077.0,981.24 L1077.5,980.98 L1078.0,980.72 L1078.5,980.46 L1079.0,980.19 L1079.5,979.92 L1080.0,979.65 L1080.5,979.37 L1081.0,979.09 L1081.5,978.81 L1082.0,978.52 L1082.5,978.23 L1083.0,977.93 L1083.5,977.64 L1084.0,977.33 L1084.5,977.03 L1085.0,976.72 L1085.5,976.41 L1086.0,976.09 L1086.5,975.77 L1087.0,975.45 L1087.5,975.12 L1088.0,974.79 L1088.5,974.45 L1089.0,974.11 L1089.5,973.77 L1090.0,973.42 L1090.5,973.07 L1091.0,972.71 L1091.5,972.35 L1092.0,971.99 L1092.5,971.62 L1093.0,971.24 L1093.5,970.87 L1094.0,970.48 L1094.5,970.10 L1095.0,969.70 L1095.5,969.31 L1096.0,968.90 L1096.5,968.50 L1097.0,968.08 L1097.5,967.67 L1098.0,967.24 L1098.5,966.82 L1099.0,966.39 L1099.5,965.95 L1100.0,965.50 L1100.5,965.06 L1101.0,964.60 L1101.5,964.14 L1102.0,963.68 L1102.5,963.21 L1103.0,962.73 L1103.5,962.25 L1104.0,961.76 L1104.5,961.26 L1105.0,960.76 L1105.5,960.26 L1106.0,959.75 L1106.5,959.23 L1107.0,958.70 L1107.5,958.17 L1108.0,957.63 L1108.5,957.09 L1109.0,956.54 L1109.5,955.98 L1110.0,955.41 L1110.5,954.84 L1111.0,954.26 L1111.5,953.68 L1112.0,953.08 L1112.5,952.48 L1113.0,951.88 L1113.5,951.26 L1114.0,950.64 L1114.5,950.01 L1115.0,949.37 L1115.5,948.73 L1116.0,948.07 L1116.5,947.41 L1117.0,946.74 L1117.5,946.06 L1118.0,945.38 L1118.5,944.68 L1119.0,943.98 L1119.5,943.27 L1120.0,942.55 L1120.5,941.82 L1121.0,941.08 L1121.5,940.34 L1122.0,939.58 L1122.5,938.82 L1123.0,938.04 L1123.5,937.26 L1124.0,936.47 L1124.5,935.66 L1125.0,934.85 L1125.5,934.03 L1126.0,933.20 L1126.5,932.36 L1127.0,931.50 L1127.5,930.64 L1128.0,929.77 L1128.5,928.89 L1129.0,927.99 L1129.5,927.09 L1130.0,926.17 L1130.5,925.25 L1131.0,924.31 L1131.5,923.36 L1132.0,922.40 L1132.5,921.43 L1133.0,920.44 L1133.5,919.45 L1134.0,918.44 L1134.5,917.42 L1135.0,916.39 L1135.5,915.35 L1136.0,914.29 L1136.5,913.22 L1137.0,912.14 L1137.5,911.05 L1138.0,909.94 L1138.5,908.82 L1139.0,907.69 L1139.5,906.55 L1140.0,905.39 L1140.5,904.21 L1141.0,903.03 L1141.5,901.83 L1142.0,900.61 L1142.5,899.38 L1143.0,898.14 L1143.5,896.88 L1144.0,895.61 L1144.5,894.32 L1145.0,893.02 L1145.5,891.70 L1146.0,890.37 L1146.5,889.02 L1147.0,887.66 L1147.5,886.28 L1148.0,884.89 L1148.5,883.48 L1149.0,882.05 L1149.5,880.61 L1150.0,879.15 L1150.5,877.67 L1151.0,876.18 L1151.5,874.67 L1152.0,873.14 L1152.5,871.60 L1153.0,870.04 L1153.5,868.46 L1154.0,866.87 L1154.5,865.25 L1155.0,863.62 L1155.5,861.97 L1156.0,860.31 L1156.5,858.62 L1157.0,856.92 L1157.5,855.19 L1158.0,853.45 L1158.5,851.69 L1159.0,849.91 L1159.5,848.11 L1160.0,846.29 L1160.5,844.46 L1161.0,842.60 L1161.5,840.72 L1162.0,838.82 L1162.5,836.91 L1163.0,834.97 L1163.5,833.01 L1164.0,831.03 L1164.5,829.03 L1165.0,827.01 L1165.5,824.97 L1166.0,822.91 L1166.5,820.82 L1167.0,818.72 L1167.5,816.59 L1168.0,814.44 L1168.5,812.27 L1169.0,810.08 L1169.5,807.87 L1170.0,805.63 L1170.5,803.37 L1171.0,801.09 L1171.5,798.79 L1172.0,796.46 L1172.5,794.11 L1173.0,791.74 L1173.5,789.35 L1174.0,786.93 L1174.5,784.49 L1175.0,782.02 L1175.5,779.54 L1176.0,777.03 L1176.5,774.49 L1177.0,771.93 L1177.5,769.35 L1178.0,766.74 L1178.5,764.11 L1179.0,761.46 L1179.5,758.78 L1180.0,756.08 L1180.5,753.36 L1181.0,750.61 L1181.5,747.83 L1182.0,745.03 L1182.5,742.21 L1183.0,739.36 L1183.5,736.49 L1184.0,733.59 L1184.5,730.67 L1185.0,727.73 L1185.5,724.76 L1186.0,721.76 L1186.5,718.75 L1187.0,715.70 L1187.5,712.64 L1188.0,709.55 L1188.5,706.43 L1189.0,703.29 L1189.5,700.12 L1190.0,696.94 L1190.5,693.72 L1191.0,690.49 L1191.5,687.23 L1192.0,683.94 L1192.5,680.63 L1193.0,677.30 L1193.5,673.94 L1194.0,670.56 L1194.5,667.16 L1195.0,663.73 L1195.5,660.29 L1196.0,656.81 L1196.5,653.32 L1197.0,649.80 L1197.5,646.26 L1198.0,642.70 L1198.5,639.11 L1199.0,635.51 L1199.5,631.88 L1200.0,628.23 L1200.5,624.56 L1201.0,620.87 L1201.5,617.16 L1202.0,613.43 L1202.5,609.67 L1203.0,605.90 L1203.5,602.11 L1204.0,598.30 L1204.5,594.47 L1205.0,590.62 L1205.5,586.76 L1206.0,582.87 L1206.5,578.97 L1207.0,575.06 L1207.5,571.12 L1208.0,567.17 L1208.5,563.21 L1209.0,559.23 L1209.5,555.23 L1210.0,551.22 L1210.5,547.20 L1211.0,543.16 L1211.5,539.11 L1212.0,535.05 L1212.5,530.98 L1213.0,526.89 L1213.5,522.80 L1214.0,518.70 L1214.5,514.58 L1215.0,510.46 L1215.5,506.33 L1216.0,502.19 L1216.5,498.05 L1217.0,493.90 L1217.5,489.75 L1218.0,485.59 L1218.5,481.42 L1219.0,477.26 L1219.5,473.09 L1220.0,468.92 L1220.5,464.75 L1221.0,460.58 L1221.5,456.41 L1222.0,452.24 L1222.5,448.08 L1223.0,443.92 L1223.5,439.76 L1224.0,435.61 L1224.5,431.46 L1225.0,427.32 L1225.5,423.19 L1226.0,419.07 L1226.5,414.96 L1227.0,410.86 L1227.5,406.78 L1228.0,402.70 L1228.5,398.64 L1229.0,394.60 L1229.5,390.57 L1230.0,386.56 L1230.5,382.56 L1231.0,378.59 L1231.5,374.64 L1232.0,370.71 L1232.5,366.80 L1233.0,362.91 L1233.5,359.06 L1234.0,355.22 L1234.5,351.42 L1235.0,347.64 L1235.5,343.90 L1236.0,340.18 L1236.5,336.50 L1237.0,332.85 L1237.5,329.24 L1238.0,325.66 L1238.5,322.13 L1239.0,318.63 L1239.5,315.17 L1240.0,311.75 L1240.5,308.37 L1241.0,305.04 L1241.5,301.75 L1242.0,298.51 L1242.5,295.32 L1243.0,292.18 L1243.5,289.08 L1244.0,286.04 L1244.5,283.06 L1245.0,280.12 L1245.5,277.25 L1246.0,274.43 L1246.5,271.66 L1247.0,268.96 L1247.5,266.32 L1248.0,263.74 L1248.5,261.23 L1249.0,258.78 L1249.5,256.40 L1250.0,254.08 L1250.5,251.83 L1251.0,249.66 L1251.5,247.55 L1252.0,245.52 L1252.5,243.56 L1253.0,241.68 L1253.5,239.87 L1254.0,238.14 L1254.5,236.49 L1255.0,234.92 L1255.5,233.43 L1256.0,232.03 L1256.5,230.70 L1257.0,229.46 L1257.5,228.31 L1258.0,227.24 L1258.5,226.26 L1259.0,225.37 L1259.5,224.57 L1260.0,223.86 L1260.5,223.24 L1261.0,222.71 L1261.5,222.28 L1262.0,221.94 L1262.5,221.70 L1263.0,221.55 L1263.5,221.50 L1264.0,221.55 L1264.5,221.69 L1265.0,221.93 L1265.5,222.28 L1266.0,222.72 L1266.5,223.26 L1267.0,223.91 L1267.5,224.65 L1268.0,225.50 L1268.5,226.45 L1269.0,227.50 L1269.5,228.66 L1270.0,229.92 L1270.5,231.28 L1271.0,232.75 L1271.5,234.32 L1272.0,236.00 L1272.5,237.78 L1273.0,239.67 L1273.5,241.65 L1274.0,243.75 L1274.5,245.94 L1275.0,248.24 L1275.5,250.65 L1276.0,253.16 L1276.5,255.77 L1277.0,258.48 L1277.5,261.30 L1278.0,264.22 L1278.5,267.24 L1279.0,270.36 L1279.5,273.58 L1280.0,276.90 L1280.5,280.32 L1281.0,283.84 L1281.5,287.45 L1282.0,291.16 L1282.5,294.97 L1283.0,298.87 L1283.5,302.86 L1284.0,306.95 L1284.5,311.13 L1285.0,315.40 L1285.5,319.76 L1286.0,324.20 L1286.5,328.73 L1287.0,333.35 L1287.5,338.05 L1288.0,342.83 L1288.5,347.70 L1289.0,352.64 L1289.5,357.66 L1290.0,362.76 L1290.5,367.93 L1291.0,373.17 L1291.5,378.48 L1292.0,383.87 L1292.5,389.32 L1293.0,394.83 L1293.5,400.41 L1294.0,406.05 L1294.5,411.75 L1295.0,417.51 L1295.5,423.33 L1296.0,429.19 L1296.5,435.11 L1297.0,441.08 L1297.5,447.09 L1298.0,453.15 L1298.5,459.26 L1299.0,465.40 L1299.5,471.58 L1300.0,477.80 L1300.5,484.05 L1301.0,490.33 L1301.5,496.65 L1302.0,502.98 L1302.5,509.35 L1303.0,515.73 L1303.5,522.14 L1304.0,528.56 L1304.5,535.00 L1305.0,541.45 L1305.5,547.92 L1306.0,554.39 L1306.5,560.86 L1307.0,567.34 L1307.5,573.83 L1308.0,580.31 L1308.5,586.78 L1309.0,593.26 L1309.5,599.72 L1310.0,606.17 L1310.5,612.61 L1311.0,619.04 L1311.5,625.45 L1312.0,631.84 L1312.5,638.21 L1313.0,644.56 L1313.5,650.88 L1314.0,657.17 L1314.5,663.44 L1315.0,669.67 L1315.5,675.87 L1316.0,682.04 L1316.5,688.16 L1317.0,694.25 L1317.5,700.30 L1318.0,706.31 L1318.5,712.27 L1319.0,718.18 L1319.5,724.05 L1320.0,729.87 L1320.5,735.63 L1321.0,741.35 L1321.5,747.01 L1322.0,752.61 L1322.5,758.16 L1323.0,763.65 L1323.5,769.09 L1324.0,774.46 L1324.5,779.77 L1325.0,785.02 L1325.5,790.20 L1326.0,795.32 L1326.5,800.38 L1327.0,805.36 L1327.5,810.28 L1328.0,815.14 L1328.5,819.92 L1329.0,824.64 L1329.5,829.28 L1330.0,833.85 L1330.5,838.36 L1331.0,842.79 L1331.5,847.15 L1332.0,851.44 L1332.5,855.65 L1333.0,859.79 L1333.5,863.86 L1334.0,867.86 L1334.5,871.78 L1335.0,875.63 L1335.5,879.41 L1336.0,883.11 L1336.5,886.74 L1337.0,890.30 L1337.5,893.78 L1338.0,897.19 L1338.5,900.53 L1339.0,903.80 L1339.5,907.00 L1340.0,910.12 L1340.5,913.18 L1341.0,916.16 L1341.5,919.08 L1342.0,921.93 L1342.5,924.70 L1343.0,927.41 L1343.5,930.06 L1344.0,932.63 L1344.5,935.14 L1345.0,937.59 L1345.5,939.97 L1346.0,942.29 L1346.5,944.54 L1347.0,946.74 L1347.5,948.87 L1348.0,950.94 L1348.5,952.96 L1349.0,954.91 L1349.5,956.81 L1350.0,958.65 L1350.5,960.44 L1351.0,962.17 L1351.5,963.85 L1352.0,965.47 L1352.5,967.05 L1353.0,968.57 L1353.5,970.05 L1354.0,971.48 L1354.5,972.86 L1355.0,974.19 L1355.5,975.48 L1356.0,976.72 L1356.5,977.92 L1357.0,979.08 L1357.5,980.19 L1358.0,981.27 L1358.5,982.31 L1359.0,983.31 L1359.5,984.27 L1360.0,985.20 L1360.5,986.09 L1361.0,986.94 L1361.5,987.77 L1362.0,988.56 L1362.5,989.32 L1363.0,990.04 L1363.5,990.74 L1364.0,991.41 L1364.5,992.06 L1365.0,992.67 L1365.5,993.26 L1366.0,993.83 L1366.5,994.37 L1367.0,994.88 L1367.5,995.38 L1368.0,995.85 L1368.5,996.30 L1369.0,996.73 L1369.5,997.14 L1370.0,997.54 L1370.5,997.91 L1371.0,998.26 L1371.5,998.60 L1372.0,998.93 L1372.5,999.23 L1373.0,999.53 L1373.5,999.80 L1374.0,1000.07 L1374.5,1000.32 L1375.0,1000.56 L1375.5,1000.78 L1376.0,1001.00 L1376.5,1001.20 L1377.0,1001.39 L1377.5,1001.57 L1378.0,1001.75 L1378.5,1001.91 L1379.0,1002.07 L1379.5,1002.23 L1380.0,1002.38 L1380.5,1002.52 L1381.0,1002.67 L1381.5,1002.81 L1382.0,1002.95 L1382.5,1003.09 L1383.0,1003.23 L1383.5,1003.36 L1384.0,1003.48 L1384.5,1003.60 L1385.0,1003.70 L1385.5,1003.80 L1386.0,1003.89 L1386.5,1003.97 L1387.0,1004.04 L1387.5,1004.10 L1388.0,1004.15 L1388.5,1004.19 L1389.0,1004.23 L1389.5,1004.26 L1390.0,1004.28 L1390.5,1004.31 L1391.0,1004.32 L1391.5,1004.34 L1392.0,1004.35 L1392.5,1004.36 L1393.0,1004.37 L1393.5,1004.37 L1394.0,1004.38 L1394.5,1004.38 L1637.5,1004.40" fill="none" stroke="#ff0000" stroke-width="11" stroke-linejoin="round" stroke-linecap="butt"/>
<rect x="305" y="108" width="132" height="11" fill="#0000ff"/>
<rect x="305" y="181" width="132" height="11" fill="#ff0000"/>
<line x1="1271.4" y1="218.1" x2="1298.3" y2="194.0" stroke="#000" stroke-width="4"/>
<polygon points="1332.9,162.9 1305.2,204.6 1288.5,186.0" fill="#000"/>
<line x1="1112.0" y1="164.5" x2="1099.7" y2="154.6" stroke="#000" stroke-width="4"/>
<polygon points="1063.5,125.5 1109.1,146.2 1093.5,165.6" fill="#000"/>
<line x1="747.8" y1="859.6" x2="737.6" y2="844.0" stroke="#000" stroke-width="4"/>
<polygon points="712.2,805.0 749.2,838.8 728.2,852.5" fill="#000"/>
<text transform="translate(233,1026.7) scale(0.973,1.0)" font-family="'Liberation Serif',serif" font-size="82.4" text-anchor="end" fill="#000"  >0</text>
<text transform="translate(233,870.4) scale(0.973,1.0)" font-family="'Liberation Serif',serif" font-size="82.4" text-anchor="end" fill="#000"  >5</text>
<text transform="translate(233,714.1) scale(0.973,1.0)" font-family="'Liberation Serif',serif" font-size="82.4" text-anchor="end" fill="#000"  >10</text>
<text transform="translate(233,557.8) scale(0.973,1.0)" font-family="'Liberation Serif',serif" font-size="82.4" text-anchor="end" fill="#000"  >15</text>
<text transform="translate(233,401.5) scale(0.973,1.0)" font-family="'Liberation Serif',serif" font-size="82.4" text-anchor="end" fill="#000"  >20</text>
<text transform="translate(233,245.2) scale(0.973,1.0)" font-family="'Liberation Serif',serif" font-size="82.4" text-anchor="end" fill="#000"  >25</text>
<text transform="translate(233,88.9) scale(0.973,1.0)" font-family="'Liberation Serif',serif" font-size="82.4" text-anchor="end" fill="#000"  >30</text>
<text transform="translate(274.3,1182) scale(0.973,1.0)" font-family="'Liberation Serif',serif" font-size="82.4" text-anchor="middle" fill="#000"  >10</text>
<text transform="translate(729.0,1182) scale(0.973,1.0)" font-family="'Liberation Serif',serif" font-size="82.4" text-anchor="middle" fill="#000"  >100</text>
<text transform="translate(1183.6,1182) scale(0.973,1.0)" font-family="'Liberation Serif',serif" font-size="82.4" text-anchor="middle" fill="#000"  >1000</text>
<text transform="translate(1638.3,1182) scale(0.973,1.0)" font-family="'Liberation Serif',serif" font-size="82.4" text-anchor="middle" fill="#000"  >10000</text>
<text transform="translate(965.8,1298.4) scale(0.989,1.0)" font-family="'Liberation Serif',serif" font-size="99" text-anchor="middle" fill="#000"  >Size(nm)</text>
<text transform="translate(129.9,517.7) rotate(-90) scale(1.0108,1)" font-family="'Liberation Serif',serif" font-size="98.5" text-anchor="middle" fill="#000">Intensity(a.u.)</text>
<text transform="translate(451.0,133) scale(0.966,1.0)" font-family="'Liberation Serif',serif" font-size="59.2" text-anchor="start" fill="#000" stroke="#000" stroke-width="0.6" stroke-linejoin="round" >Milled 60s</text>
<text transform="translate(451.0,206.3) scale(0.966,1.0)" font-family="'Liberation Serif',serif" font-size="59.2" text-anchor="start" fill="#000" stroke="#000" stroke-width="0.6" stroke-linejoin="round" >Not milled</text>
<text font-family="'Liberation Serif',serif" font-size="64" fill="#000" stroke="#000" stroke-width="0.9" stroke-linejoin="round" xml:space="preserve" style="font-kerning:none"><tspan x="790.1" y="127.2">d</tspan><tspan x="820.2" y="148.9" font-size="37" stroke-width="0.6">2</tspan><tspan x="837.6" y="120.31" font-size="41.6" stroke-width="0.8" textLength="38.98" lengthAdjust="spacingAndGlyphs">=</tspan><tspan x="873.0" y="127.2" textLength="110.99" lengthAdjust="spacingAndGlyphs">716 </tspan><tspan x="985.1" y="127.2" textLength="79.75" lengthAdjust="spacingAndGlyphs">nm</tspan></text>
<text font-family="'Liberation Serif',serif" font-size="64" fill="#000" stroke="#000" stroke-width="0.9" stroke-linejoin="round" xml:space="preserve" style="font-kerning:none"><tspan x="1324.9" y="149.1">d</tspan><tspan x="1356.3" y="170.8" font-size="37" stroke-width="0.6">1</tspan><tspan x="1372.4" y="142.22" font-size="41.6" stroke-width="0.8" textLength="39.6" lengthAdjust="spacingAndGlyphs">=</tspan><tspan x="1412.7" y="149.1" textLength="138.24" lengthAdjust="spacingAndGlyphs">1472 </tspan><tspan x="1550.3" y="149.1" textLength="80.4" lengthAdjust="spacingAndGlyphs">nm</tspan></text>
<text font-family="'Liberation Serif',serif" font-size="64" fill="#000" stroke="#000" stroke-width="0.9" stroke-linejoin="round" xml:space="preserve" style="font-kerning:none"><tspan x="491.8" y="787.1">d</tspan><tspan x="522.3" y="808.8" font-size="37" stroke-width="0.6">3</tspan><tspan x="539.8" y="780.22" font-size="41.6" stroke-width="0.8" textLength="40.07" lengthAdjust="spacingAndGlyphs">=</tspan><tspan x="578.3" y="787.1" textLength="110.6" lengthAdjust="spacingAndGlyphs">111 </tspan><tspan x="685.9" y="787.1" textLength="81.1" lengthAdjust="spacingAndGlyphs">nm</tspan></text>
</svg>
</body></html>
